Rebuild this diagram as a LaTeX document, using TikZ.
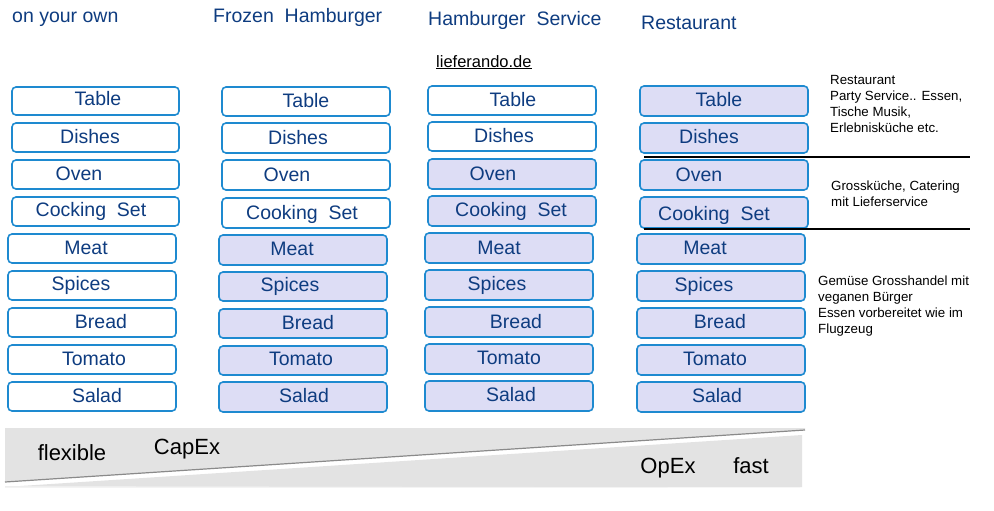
\documentclass[tikz,border=0pt]{standalone}
\usepackage{fontspec}
\setmainfont{Liberation Sans}
\definecolor{txtblue}{HTML}{0E3C80}
\definecolor{bxborder}{HTML}{1E8AD0}
\definecolor{bxfill}{HTML}{DDDDF5}
\definecolor{bandgray}{HTML}{E3E3E3}
\definecolor{linegray}{HTML}{8A8A8A}
\tikzset{
  bxw/.style={draw=bxborder, line width=1.6pt, rounded corners=4pt, fill=white},
  bxf/.style={draw=bxborder, line width=1.6pt, rounded corners=4pt, fill=bxfill},
  btxt/.style={text=txtblue, font=\fontsize{19.5}{20}\selectfont, inner sep=0pt, anchor=center},
  ttl/.style={text=txtblue, font=\fontsize{19.5}{20}\selectfont, inner sep=0pt, anchor=base west},
  note/.style={font=\fontsize{13.3}{16}\selectfont, inner sep=0pt, anchor=north west, align=left},
  bot/.style={font=\fontsize{22}{24}\selectfont, inner sep=0pt, anchor=base},
}
% \bx{name}{x1}{y1}{x2}{y2}{tx}{ty}{text}{style}
\newcommand{\bx}[9]{%
  \path[#9] (#2,#3) rectangle (#4,#5);
  \node[btxt] (#1) at (#6,#7) {#8};
}
\begin{document}
\begin{tikzpicture}[x=1pt,y=-1pt]
\useasboundingbox (0,0) rectangle (994,511);
% titles
\node[ttl] (t1) at (12,23) {on your own};
\node[ttl] (t2) at (213,23) {Frozen\ \ Hamburger};
\node[ttl] (t3) at (428,26) {Hamburger\ \ Service};
\node[ttl] (t4) at (641,30) {Restaurant};
\node[inner sep=0pt, anchor=base west, font=\fontsize{16.5}{18}\selectfont] (lf) at (436,67) {\underline{lieferando.de}};
% column 1
\bx{a1}{12}{87}{179}{115}{98}{99}{Table}{bxw}
\bx{a2}{12}{123}{179}{152}{90}{137}{Dishes}{bxw}
\bx{a3}{12}{160}{179}{189}{79}{174}{Oven}{bxw}
\bx{a4}{12}{197}{179}{226}{91}{211}{Cocking\ \ Set}{bxw}
\bx{a5}{8}{234}{176}{263}{86}{248}{Meat}{bxw}
\bx{a6}{8}{271}{176}{300}{81}{285}{Spices}{bxw}
\bx{a7}{8}{308}{176}{337}{101}{322}{Bread}{bxw}
\bx{a8}{8}{345}{176}{374}{94}{359}{Tomato}{bxw}
\bx{a9}{8}{382}{176}{411}{97}{396}{Salad}{bxw}
% column 2
\bx{b1}{222}{87}{390}{116}{306}{101}{Table}{bxw}
\bx{b2}{222}{123}{390}{153}{298}{138}{Dishes}{bxw}
\bx{b3}{222}{160}{390}{190}{287}{175}{Oven}{bxw}
\bx{b4}{222}{198}{390}{228}{302}{214}{Cooking\ \ Set}{bxw}
\bx{b5}{219}{235}{387}{265}{292}{249}{Meat}{bxf}
\bx{b6}{219}{272}{387}{301}{290}{286}{Spices}{bxf}
\bx{b7}{219}{309}{387}{338}{308}{323}{Bread}{bxf}
\bx{b8}{219}{346}{387}{375}{301}{359}{Tomato}{bxf}
\bx{b9}{219}{382}{387}{412}{304}{396}{Salad}{bxf}
% column 3
\bx{c1}{428}{86}{596}{115}{513}{100}{Table}{bxw}
\bx{c2}{428}{122}{596}{151}{504}{136}{Dishes}{bxw}
\bx{c3}{428}{159}{596}{189}{493}{174}{Oven}{bxf}
\bx{c4}{428}{196}{596}{226}{511}{211}{Cooking\ \ Set}{bxf}
\bx{c5}{425}{233}{593}{263}{499}{248}{Meat}{bxf}
\bx{c6}{425}{270}{593}{300}{497}{285}{Spices}{bxf}
\bx{c7}{425}{307}{593}{337}{516}{322}{Bread}{bxf}
\bx{c8}{425}{344}{593}{374}{509}{358}{Tomato}{bxf}
\bx{c9}{425}{381}{593}{411}{511}{395}{Salad}{bxf}
% column 4
\bx{d1}{640}{86}{808}{116}{719}{100}{Table}{bxf}
\bx{d2}{640}{123}{808}{153}{709}{137}{Dishes}{bxf}
\bx{d3}{640}{160}{808}{190}{699}{175}{Oven}{bxf}
\bx{d4}{640}{197}{808}{228}{714}{215}{Cooking\ \ Set}{bxf}
\bx{d5}{637}{234}{805}{264}{705}{248}{Meat}{bxf}
\bx{d6}{637}{271}{805}{301}{704}{286}{Spices}{bxf}
\bx{d7}{637}{308}{805}{338}{720}{322}{Bread}{bxf}
\bx{d8}{637}{345}{805}{375}{715}{359}{Tomato}{bxf}
\bx{d9}{637}{382}{805}{412}{717}{396}{Salad}{bxf}
% separator lines
\coordinate (s1a) at (644,157); \coordinate (s1b) at (970,157);
\coordinate (s2a) at (644,229); \coordinate (s2b) at (970,229);
\draw[line width=1.5pt] (s1a) -- (s1b);
\draw[line width=1.5pt] (s2a) -- (s2b);
% notes
\node[note] (n1) at (830,75) {Restaurant\\Party Service.. Essen,\\Tische Musik,\\Erlebnisküche etc.};
\node[note] (n2) at (831,181) {Grossküche, Catering\\mit Lieferservice};
\node[note] (n3) at (818,276) {Gemüse Grosshandel mit\\veganen Bürger\\Essen vorbereitet wie im\\Flugzeug};
% bottom band
\fill[bandgray] (5,428) -- (805,428) -- (805,430) -- (5,482) -- cycle;
\fill[bandgray] (5,487) -- (802,435) -- (802,487) -- cycle;
\fill[bandgray!60] (5,486) -- (5,487.5) -- (802,487.5) -- cycle;
\draw[linegray, line width=1.2pt] (5,482) -- (805,430);
\node[bot] (f1) at (72,460) {flexible};
\node[bot] (f2) at (187,454) {CapEx};
\node[bot] (f3) at (668,473) {OpEx};
\node[bot] (f4) at (751,473) {fast};
\end{tikzpicture}
\end{document}
